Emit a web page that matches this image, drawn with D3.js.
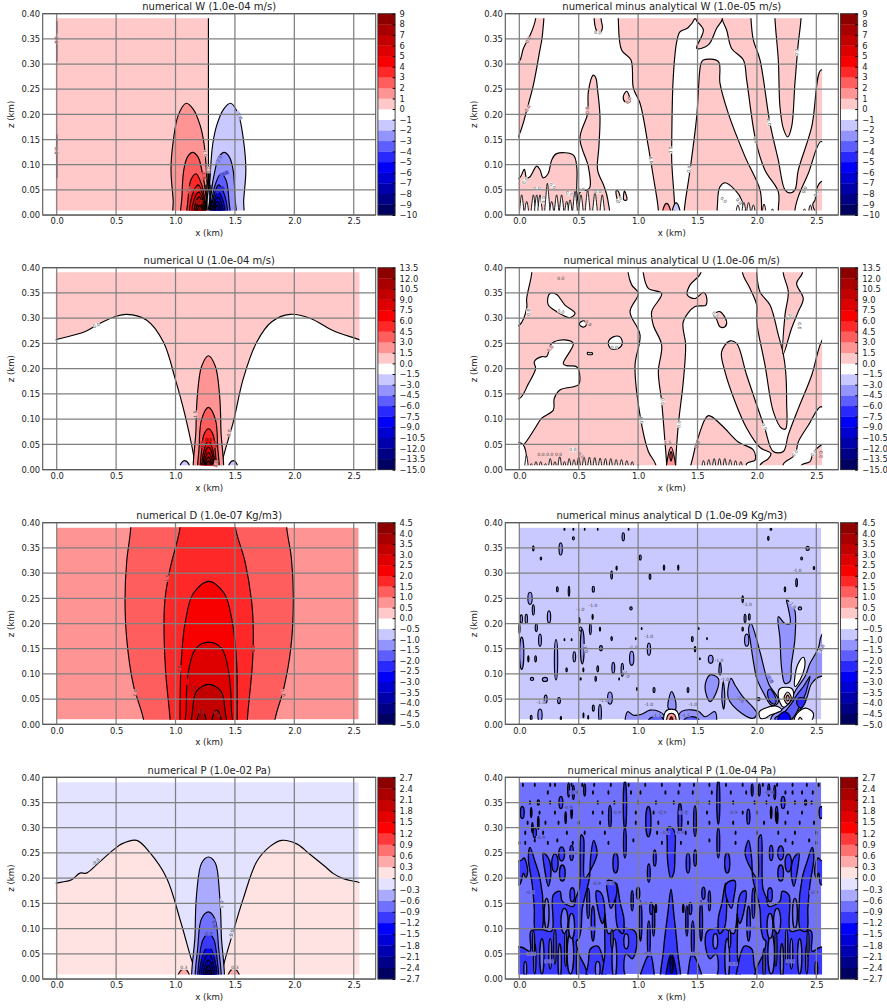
<!DOCTYPE html>
<html>
<head>
<meta charset="utf-8">
<script src="https://cdnjs.cloudflare.com/ajax/libs/d3/7.8.5/d3.min.js"></script>
<style>
  body { margin: 0; background: #fff; }
  text { font-family: "DejaVu Sans", sans-serif; fill: #222; }
</style>
</head>
<body>
<div id="chart"></div>
<script>
// contour levels of each colour bar
var levelsW = [-10,-9,-8,-7,-6,-5,-4,-3,-2,-1,0,1,2,3,4,5,6,7,8,9];
var levelsU = [-15,-13.5,-12,-10.5,-9,-7.5,-6,-4.5,-3,-1.5,0,1.5,3,4.5,6,7.5,9,10.5,12,13.5];
var levelsD = [-5,-4.5,-4,-3.5,-3,-2.5,-2,-1.5,-1,-0.5,0,0.5,1,1.5,2,2.5,3,3.5,4,4.5];
var levelsP = [-2.7,-2.4,-2.1,-1.8,-1.5,-1.2,-0.9,-0.6,-0.3,0,0.3,0.6,0.9,1.2,1.5,1.8,2.1,2.4,2.7];

var xTicks = [0, 0.5, 1, 1.5, 2, 2.5];
var zTicks = [0, 0.05, 0.1, 0.15, 0.2, 0.25, 0.3, 0.35, 0.4];

// x extent and z extent of the model output (km)
var domainX = [0, 2.54];
var domainZ = [0.01, 0.39];

// Contour shapes: [value inside, [[x km, z km], ...], straight edges?]
// value null = line only
var shapesW1 = [
  [0.5, [[-0.1,-0.1],[1.277,-0.1],[1.277,0.5],[-0.1,0.5]], true],
  [null, [[0,0.385],[0,0.36]], true],
  [null, [[0,0.34],[0,0.305]], true],
  [null, [[0,0.16],[0,0.136]], true],
  [null, [[0,0.12],[0,0.073]], true],
  [1.5, [[0.995,-0.03],[0.98,0.03],[0.962,0.09],[0.982,0.149],[1.024,0.199],[1.09,0.222],[1.15,0.21],[1.206,0.179],[1.24,0.142],[1.262,0.08],[1.275,-0.03]]],
  [2.5, [[1.06,-0.03],[1.055,0.04],[1.07,0.09],[1.1,0.115],[1.144,0.1245],[1.19,0.115],[1.225,0.085],[1.25,0.05],[1.27,-0.03]]],
  [3.5, [[1.105,-0.03],[1.105,0.03],[1.13,0.07],[1.173,0.082],[1.22,0.06],[1.255,0.02],[1.275,-0.03]]],
  [4.5, [[1.135,-0.03],[1.13,0.03],[1.19,0.06],[1.24,0.03],[1.265,-0.03]]],
  [5.5, [[1.15,-0.03],[1.15,0.025],[1.195,0.046],[1.24,0.02],[1.265,-0.03]]],
  [6.5, [[1.165,-0.03],[1.165,0.02],[1.2,0.036],[1.235,0.015],[1.26,-0.03]]],
  [7.5, [[1.175,-0.03],[1.176,0.015],[1.202,0.027],[1.23,0.012],[1.25,-0.03]]],
  [8.5, [[1.185,-0.03],[1.186,0.012],[1.204,0.019],[1.224,0.01],[1.235,-0.03]]],
  [-1.5, [[1.559,-0.03],[1.574,0.03],[1.592,0.09],[1.572,0.149],[1.53,0.199],[1.464,0.222],[1.404,0.21],[1.348,0.179],[1.314,0.142],[1.292,0.08],[1.279,-0.03]]],
  [-2.5, [[1.494,-0.03],[1.499,0.04],[1.484,0.09],[1.454,0.115],[1.41,0.1245],[1.364,0.115],[1.329,0.085],[1.304,0.05],[1.284,-0.03]]],
  [-3.5, [[1.449,-0.03],[1.449,0.03],[1.424,0.07],[1.381,0.082],[1.334,0.06],[1.299,0.02],[1.279,-0.03]]],
  [-4.5, [[1.419,-0.03],[1.424,0.03],[1.364,0.06],[1.314,0.03],[1.289,-0.03]]],
  [-5.5, [[1.404,-0.03],[1.404,0.025],[1.359,0.046],[1.314,0.02],[1.289,-0.03]]],
  [-6.5, [[1.39,-0.03],[1.39,0.02],[1.355,0.036],[1.32,0.015],[1.295,-0.03]]],
  [-7.5, [[1.38,-0.03],[1.378,0.015],[1.352,0.027],[1.325,0.012],[1.305,-0.03]]],
  [-8.5, [[1.37,-0.03],[1.368,0.012],[1.35,0.019],[1.33,0.01],[1.32,-0.03]]],
  [null, [[1.265,0.095],[1.265,0.01]], true],
  [null, [[1.288,0.09],[1.288,0.01]], true],
  [null, [[1.255,0.06],[1.262,0.01]], true],
  [null, [[1.298,0.06],[1.292,0.01]], true]
];
var labelsW1 = [
  [0,0.348,-90,"0.0",0.5],[0,0.128,-90,"0.0",0.5],[1.25,0.122,80,"1.0",0.5],[1.277,0.09,90,"0.0",0.5],
  [1.24,0.078,80,"1.0",2.5],[1.115,0.05,-70,"2.0",2.5],[1.365,0.11,-65,"-2.0",-2.5],[1.41,0.082,-25,"-3.0",-3.5],
  [1.535,0.198,65,"-1.0",-1.5],[1.18,0.05,-30,"3.0",3.5],[1.375,0.05,-30,"-4.0",-4.5],[1.2,0.026,0,"6.0",6.5]
];

var shapesW2 = [
  [0.5, [[-0.1,0.29],[0,0.305],[0.034,0.331],[0.098,0.361],[0.137,0.39],[0.14,0.43],[0.196,0.43],[0.196,0.361],[0.168,0.321],[0.118,0.258],[0.07,0.215],[0,0.16],[-0.1,0.12]]],
  [0.5, [[0.625,0.43],[0.63,0.39],[0.642,0.371],[0.67,0.359],[0.699,0.371],[0.688,0.39],[0.69,0.43]]],
  [0.5, [[0.903,0.246],[0.875,0.235],[0.889,0.225],[0.93,0.225],[0.923,0.238]]],
  [0.5, [[0.623,0.278],[0.643,0.273],[0.659,0.248],[0.679,0.195],[0.67,0.136],[0.659,0.089],[0.715,0.056],[0.745,0.03],[0.75,-0.03],[0.5,-0.03],[0.5,0.04],[0.52,0.047],[0.575,0.05],[0.595,0.056],[0.581,0.096],[0.51,0.152],[0.575,0.202],[0.581,0.245]]],
  [0.5, [[-0.1,0.0735],[0,0.0735],[0.042,0.0908],[0.062,0.073],[0.09,0.076],[0.146,0.097],[0.174,0.09],[0.2,0.074],[0.244,0.083],[0.272,0.109],[0.314,0.122],[0.455,0.119],[0.483,0.096],[0.483,0.05],[0.483,-0.03],[-0.1,-0.03]]],
  [0.5, [[0.833,0.43],[0.833,0.39],[0.861,0.328],[0.94,0.308],[0.96,0.252],[1.016,0.222],[1.086,0.136],[1.128,0.076],[1.17,0.01],[1.17,-0.03],[1.282,-0.03],[1.282,0.12],[1.295,0.27],[1.324,0.343],[1.352,0.364],[1.42,0.372],[1.484,0.395],[1.49,0.43]]],
  [0.5, [[1.484,0.43],[1.484,0.39],[1.549,0.3675],[1.493,0.331],[1.591,0.338],[1.661,0.371],[1.709,0.389],[1.71,0.43]]],
  [0.5, [[1.385,-0.03],[1.389,0.01],[1.437,0.089],[1.493,0.195],[1.529,0.301],[1.549,0.308],[1.675,0.305],[1.689,0.262],[1.759,0.202],[1.9,0.116],[2.026,0.05],[2.04,0.01],[2.04,-0.03]]],
  [-0.5, [[1.669,0.026],[1.689,0.056],[1.731,0.064],[1.815,0.05],[1.871,0.03],[1.9,-0.03],[1.69,-0.03]]],
  [0.5, [[1.71,0.43],[1.709,0.389],[1.745,0.3675],[1.787,0.331],[1.886,0.308],[1.914,0.268],[1.989,0.149],[2.068,0.089],[2.18,0.046],[2.18,0.01],[2.18,-0.03],[2.32,-0.03],[2.32,0.01],[2.348,0.036],[2.433,0.083],[2.54,0.146],[2.62,0.12],[2.62,0.27],[2.54,0.288],[2.461,0.175],[2.348,0.089],[2.32,0.05],[2.278,0.044],[2.236,0.05],[2.18,0.109],[2.11,0.182],[2.026,0.308],[1.97,0.348],[1.95,0.39],[1.95,0.43]]],
  [0.5, [[2.152,0.43],[2.152,0.39],[2.18,0.308],[2.194,0.215],[2.222,0.172],[2.259,0.155],[2.292,0.175],[2.32,0.262],[2.348,0.341],[2.371,0.39],[2.371,0.43]]],
  [0.5, [[2.62,0.07],[2.54,0.066],[2.5,0.05],[2.49,0.03],[2.47,0.02],[2.62,-0.03]]],
  [1.5, [[1.205,-0.03],[1.215,0.015],[1.24,0.023],[1.265,0.015],[1.275,-0.03]]],
  [-1.5, [[1.285,-0.03],[1.295,0.015],[1.32,0.024],[1.345,0.015],[1.355,-0.03]]],
  [0.5, [[0.815,0.048],[0.835,0.025],[0.85,0.03],[0.83,0.048]]],
  [0.5, [[0.885,0.048],[0.905,0.03],[0.88,0.03]]]
];
var teethW2 = [
  [-0.5, 0.016, [0.02,0.062,0.118,0.146,0.174,0.236,0.272,0.314,0.356,0.399,0.427,0.469,0.519,0.575,0.637,0.698], [0.04,0.027,0.04,0.04,0.04,0.063,0.027,0.04,0.04,0.027,0.03,0.047,0.04,0.05,0.045,0.04]],
  [-0.5, 0.016, [1.84,1.89,1.93,1.97], [0.02,0.025,0.025,0.02]],
  [0.5, 0.016, [2.06,2.13,2.4,2.45], [0.022,0.012,0.012,0.02]]
];
var labelsW2 = [
  [0.076,0.348,-60,"0.0",0.5],[0.07,0.212,-60,"0.0",0.5],[0.575,0.208,-90,"0.0",0.5],[0.918,0.228,-60,"0.0",0.5],
  [0.66,0.362,0,"0.0",-0.5],[1.277,0.129,90,"0.0",-0.5],[1.108,0.109,80,"0.0",-0.5],[1.428,0.091,-80,"0.0",-0.5],
  [2.334,0.323,90,"0.0",-0.5],[2.1,0.184,75,"0.0",-0.5],[1.989,0.149,75,"0.0",-0.5],[2.4,0.05,-70,"0.0",-0.5],
  [2.5,0.043,-70,"0.0",-0.5],[0.05,0.068,-50,"0.0",-0.5],[0.15,0.052,0,"0.0",-0.5],[0.28,0.058,45,"0.0",-0.5],
  [0.42,0.042,30,"0.0",-0.5],[0.52,0.05,0,"0.0",-0.5],[0.66,0.047,0,"0.0",-0.5],[0.84,0.03,-45,"0.0",-0.5],
  [1.72,0.03,45,"0.0",-0.5],[1.85,0.027,50,"0.0",-0.5],[0.2,0.03,90,"0.0",-0.5]
];

var shapesU1 = [
  [0.75, [[-0.1,0.25],[0,0.258],[0.224,0.272],[0.365,0.29],[0.49,0.303],[0.589,0.3076],[0.758,0.296],[0.898,0.253],[0.996,0.181],[1.08,0.108],[1.164,0.01],[1.17,-0.03],[1.385,-0.03],[1.389,0.01],[1.487,0.095],[1.571,0.181],[1.684,0.253],[1.81,0.293],[1.964,0.3076],[2.132,0.3],[2.329,0.275],[2.54,0.258],[2.62,0.25],[2.62,0.45],[-0.1,0.45]]],
  [2.25, [[1.178,-0.03],[1.172,0.08],[1.185,0.15],[1.22,0.205],[1.277,0.2257],[1.335,0.205],[1.37,0.15],[1.382,0.08],[1.376,-0.03]]],
  [3.75, [[1.206,-0.03],[1.2,0.05],[1.22,0.1],[1.277,0.1234],[1.335,0.1],[1.354,0.05],[1.348,-0.03]]],
  [5.25, [[1.222,-0.03],[1.22,0.04],[1.24,0.07],[1.277,0.081],[1.315,0.07],[1.333,0.04],[1.332,-0.03]]],
  [6.75, [[1.235,-0.03],[1.232,0.03],[1.277,0.058],[1.322,0.03],[1.32,-0.03]]],
  [8.25, [[1.243,-0.03],[1.24,0.025],[1.277,0.045],[1.314,0.025],[1.311,-0.03]]],
  [9.75, [[1.25,-0.03],[1.248,0.02],[1.277,0.034],[1.306,0.02],[1.304,-0.03]]],
  [11.25, [[1.257,-0.03],[1.255,0.015],[1.277,0.025],[1.299,0.015],[1.297,-0.03]]],
  [12.75, [[1.263,-0.03],[1.262,0.012],[1.277,0.017],[1.292,0.012],[1.291,-0.03]]],
  [-2.25, [[1.03,-0.03],[1.045,0.012],[1.075,0.018],[1.11,0.012],[1.128,-0.03]]],
  [-2.25, [[1.437,-0.03],[1.455,0.012],[1.487,0.018],[1.515,0.012],[1.532,-0.03]]]
];
var labelsU1 = [
  [0.335,0.286,-25,"0.0",-0.75],[1.45,0.073,-80,"0.0",0.75],[1.17,0.11,-90,"1.5",0.75],[1.277,0.059,0,"6.0",6.75],
  [1.225,0.05,-85,"4.5",5.25],[1.33,0.05,85,"4.5",5.25],[1.34,0.012,-80,"3.0",2.25]
];

var shapesU2 = [
  [0.75, [[0.104,0.43],[0.104,0.389],[0.062,0.339],[0.062,0.32],[0,0.286],[-0.1,0.28],[-0.1,-0.03],[1.148,-0.03],[1.148,0.01],[1.086,0.036],[1.016,0.108],[0.974,0.207],[1.016,0.267],[0.932,0.313],[1.002,0.349],[0.946,0.366],[0.917,0.389],[0.917,0.43]]],
  [-0.75, [[-0.1,0.15],[0,0.141],[0.076,0.17],[0.137,0.2],[0.126,0.214],[0.19,0.224],[0.23,0.224],[0.272,0.25],[0.384,0.257],[0.454,0.25],[0.37,0.21],[0.398,0.206],[0.482,0.204],[0.51,0.184],[0.496,0.168],[0.342,0.158],[0.294,0.141],[0.286,0.118],[0.188,0.102],[0.132,0.082],[0.034,0.049],[0,0.045],[-0.1,0.045]]],
  [-0.75, [[-0.1,0.05],[0.03,0.05],[0.03,-0.03],[-0.1,-0.03]]],
  [-0.75, [[0.258,0.349],[0.314,0.347],[0.384,0.326],[0.469,0.31],[0.426,0.301],[0.314,0.313],[0.244,0.326],[0.239,0.339]]],
  [-0.75, [[0.505,0.289],[0.54,0.295],[0.567,0.29],[0.55,0.283],[0.52,0.284]]],
  [-0.75, [[0.749,0.252],[0.791,0.263],[0.847,0.263],[0.867,0.25],[0.833,0.24],[0.769,0.24]]],
  [0.75, [[1.044,0.43],[1.044,0.389],[1.086,0.359],[1.198,0.349],[1.114,0.313],[1.128,0.286],[1.198,0.247],[1.17,0.194],[1.198,0.135],[1.226,0.055],[1.24,0.01],[1.24,-0.03],[1.316,-0.03],[1.316,0.01],[1.338,0.088],[1.38,0.174],[1.4,0.247],[1.38,0.293],[1.479,0.323],[1.571,0.326],[1.571,0.346],[1.549,0.351],[1.479,0.339],[1.414,0.346],[1.437,0.366],[1.526,0.389],[1.526,0.43]]],
  [2.25, [[1.24,-0.03],[1.25,0.025],[1.277,0.045],[1.304,0.025],[1.316,-0.03]]],
  [3.75, [[1.277,0.036],[1.287,0.027],[1.277,0.017],[1.267,0.027]]],
  [0.75, [[1.636,0.307],[1.689,0.313],[1.745,0.293],[1.731,0.283],[1.689,0.283],[1.66,0.298]]],
  [0.75, [[1.703,0.234],[1.773,0.255],[1.829,0.25],[1.914,0.187],[2.062,0.085],[2.138,0.036],[2.222,0.036],[2.264,0.069],[2.348,0.121],[2.461,0.187],[2.54,0.252],[2.62,0.28],[2.62,0.1],[2.54,0.125],[2.433,0.088],[2.348,0.055],[2.32,0.029],[2.222,0.011],[2.222,-0.03],[2.026,-0.03],[2.026,0.009],[2.096,0.022],[2.118,0.032],[2.026,0.044],[1.914,0.082],[1.815,0.135],[1.731,0.194]]],
  [0.75, [[1.44,-0.03],[1.465,0.029],[1.507,0.065],[1.591,0.107],[1.703,0.088],[1.843,0.055],[1.97,0.039],[1.984,0.019],[1.914,0.012],[1.914,-0.03]]],
  [0.75, [[2.376,-0.03],[2.376,0.009],[2.447,0.016],[2.475,0.034],[2.54,0.049],[2.62,0.06],[2.62,-0.03]]],
  [0.75, [[1.88,0.43],[1.88,0.389],[1.942,0.359],[1.998,0.326],[1.998,0.293],[2.068,0.207],[2.138,0.115],[2.208,0.082],[2.242,0.081],[2.25,0.135],[2.242,0.194],[2.222,0.229],[2.18,0.267],[2.11,0.326],[2.026,0.352],[1.998,0.389],[1.998,0.43]]],
  [0.75, [[2.222,0.43],[2.222,0.389],[2.264,0.352],[2.236,0.306],[2.222,0.229],[2.292,0.28],[2.348,0.313],[2.39,0.339],[2.334,0.369],[2.382,0.389],[2.382,0.43]]],
  [-0.75, [[0.595,0.2315],[0.575,0.2325],[0.575,0.2285],[0.615,0.2285],[0.615,0.2315]]]
];
var teethU2 = [
  [-0.75, 0.014, [0.06,0.1,0.14,0.18,0.22,0.26,0.3,0.34,0.38,0.42,0.46,0.5,0.545,0.59,0.635,0.68,0.725,0.77,0.815,0.86,0.905,0.95,1.0],
                  [0.028,0.012,0.016,0.016,0.012,0.022,0.016,0.026,0.016,0.022,0.02,0.025,0.025,0.025,0.024,0.023,0.022,0.022,0.02,0.02,0.018,0.016,0.01]],
  [-0.75, 0.014, [1.55,1.595,1.64,1.685,1.73,1.775,1.82,1.865], [0.018,0.02,0.022,0.022,0.022,0.02,0.018,0.016]]
];
var labelsU2 = [
  [0.075,0.312,-90,"0.0",-0.75],[0.35,0.379,0,"0.0",0.75],[0.35,0.313,20,"0.0",-0.75],[0.58,0.29,40,"0.0",0.75],
  [0.8,0.243,0,"0.0",-0.75],[0.26,0.24,-50,"0.0",0.75],[1.205,0.135,90,"0.0",-0.75],[1.025,0.098,80,"0.0",-0.75],
  [1.343,0.09,-85,"0.0",-0.75],[1.25,0.055,0,"1.5",0.75],[1.65,0.307,45,"0.0",-0.75],[2.27,0.302,-60,"0.0",-0.75],
  [2.36,0.285,90,"0.0",-0.75],[2.06,0.085,60,"0.0",-0.75],[1.5,0.05,-75,"0.0",0.75],[2.32,0.033,-50,"0.0",-0.75],
  [2.48,0.033,-50,"0.0",-0.75],[2.54,0.03,90,"0.0",0.75],[0.22,0.03,0,"0.0.0.0",0.75],[0.33,0.03,0,"0.0",0.75],
  [0.45,0.04,0,"0.0",-0.75],[0.52,0.028,45,"0.0",0.75]
];

var shapesD1 = [
  [1.25, [[0.62,0.43],[0.623,0.39],[0.589,0.323],[0.575,0.25],[0.589,0.17],[0.645,0.078],[0.73,0.01],[0.74,-0.03],[1.83,-0.03],[1.838,0.01],[1.91,0.07],[1.97,0.15],[1.992,0.25],[1.975,0.33],[1.936,0.39],[1.93,0.43]]],
  [1.75, [[1.04,0.43],[1.038,0.39],[0.954,0.309],[0.912,0.25],[0.903,0.204],[0.917,0.104],[0.954,0.01],[0.96,-0.03],[1.6,-0.03],[1.605,0.01],[1.647,0.118],[1.655,0.184],[1.641,0.243],[1.585,0.323],[1.504,0.39],[1.5,0.43]]],
  [2.25, [[1.04,-0.03],[1.038,0.01],[1.047,0.12],[1.08,0.2],[1.15,0.26],[1.28,0.2835],[1.41,0.26],[1.48,0.2],[1.515,0.12],[1.52,0.01],[1.52,-0.03]]],
  [2.75, [[1.094,-0.03],[1.09,0.03],[1.105,0.1],[1.17,0.15],[1.28,0.163],[1.39,0.15],[1.45,0.1],[1.47,0.03],[1.465,-0.03]]],
  [3.25, [[1.145,-0.03],[1.145,0.03],[1.175,0.065],[1.28,0.0793],[1.385,0.065],[1.415,0.03],[1.42,-0.03]]],
  [3.75, [[1.17,-0.03],[1.195,0.02],[1.22,0.028],[1.245,0.02],[1.26,-0.03]]],
  [3.75, [[1.3,-0.03],[1.32,0.02],[1.347,0.028],[1.372,0.02],[1.39,-0.03]]]
];
var labelsD1 = [
  [0.66,0.062,-75,"1.0",0.75],[1.905,0.062,75,"1.0",0.75],[0.93,0.29,-80,"1.5",1.25],[1.65,0.15,90,"1.5",1.75],
  [1.035,0.11,-90,"2.0",1.75],[1.1,0.085,-90,"2.5",2.25],[1.15,0.07,-60,"3.0",2.75],[1.22,0.025,0,"4.0",3.25],[1.35,0.02,45,"4.0",3.25]
];

var shapesD2 = [
  [-1.25, [[1.95,0.2],[1.99,0.175],[2.03,0.14],[2.1,0.08],[2.18,0.05],[2.17,0.04],[2.12,0.038],[2.06,0.06],[2.0,0.09],[1.97,0.125],[1.945,0.165],[1.93,0.19]]],
  [-1.75, [[2.09,0.065],[2.11,0.07],[2.16,0.05],[2.15,0.04],[2.11,0.045]]],
  [-1.25, [[2.25,0.2465],[2.3,0.235],[2.32,0.225],[2.32,0.17],[2.29,0.118],[2.278,0.085],[2.236,0.081],[2.208,0.111],[2.194,0.17],[2.18,0.2135],[2.236,0.2],[2.278,0.2],[2.264,0.23]]],
  [-1.25, [[2.62,0.2],[2.54,0.174],[2.517,0.151],[2.447,0.121],[2.405,0.095],[2.335,0.071],[2.279,0.048],[2.223,0.032],[2.124,0.015],[2.124,-0.03],[2.307,-0.03],[2.307,0.019],[2.377,0.032],[2.419,0.052],[2.461,0.081],[2.54,0.095],[2.62,0.09]]],
  [-1.75, [[2.447,0.095],[2.391,0.075],[2.335,0.058],[2.293,0.042],[2.223,0.022],[2.152,0.012],[2.18,0.0],[2.3,0.012],[2.363,0.038],[2.405,0.058],[2.433,0.081]]],
  [-2.25, [[2.35,0.052],[2.412,0.05],[2.37,0.032],[2.335,0.042]]],
  [-2.75, [[2.18,0.015],[2.237,0.025],[2.28,0.015],[2.25,-0.01],[2.2,-0.01]]],
  [-0.25, [[2.39,0.133],[2.405,0.121],[2.363,0.088],[2.32,0.075],[2.32,0.095],[2.349,0.121]]],
  [-0.25, [[2.194,0.071],[2.293,0.071],[2.307,0.055],[2.223,0.034],[2.18,0.055]]],
  [0.25, [[2.228,0.052],[2.259,0.064],[2.29,0.052],[2.259,0.04]]],
  [0.75, [[2.245,0.052],[2.259,0.058],[2.273,0.052],[2.259,0.046]]],
  [-0.25, [[2.068,0.032],[2.166,0.036],[2.209,0.028],[2.11,0.018],[2.068,0.012],[2.03,0.012],[2.02,0.025]]],
  [-0.25, [[2.32,0.015],[2.405,0.032],[2.475,0.022],[2.447,0.003],[2.33,0.0]]],
  [0.25, [[2.345,0.004],[2.363,0.014],[2.385,0.004],[2.363,-0.005]]],
  [-1.25, [[1.782,0.091],[1.815,0.078],[1.871,0.058],[1.998,0.022],[1.97,0.012],[1.871,0.022],[1.759,0.052]]],
  [-1.25, [[1.605,0.098],[1.675,0.091],[1.661,0.065],[1.605,0.045],[1.563,0.075]]],
  [-1.25, [[1.717,0.085],[1.73,0.05],[1.72,0.03],[1.705,0.05]]],
  [-1.25, [[1.69,0.124],[1.7,0.105],[1.69,0.098],[1.68,0.105]]],
  [-1.25, [[1.254,0.032],[1.282,0.065],[1.316,0.045],[1.31,0.028]]],
  [-1.25, [[0.912,-0.03],[0.912,0.025],[0.96,0.018],[1.03,0.02],[1.1,0.028],[1.17,0.026],[1.226,0.015],[1.226,-0.03]]],
  [-1.25, [[1.33,-0.03],[1.35,0.022],[1.392,0.028],[1.507,0.026],[1.563,0.015],[1.647,0.025],[1.62,-0.03]]],
  [-1.75, [[1.06,-0.03],[1.1,0.012],[1.2,0.014],[1.22,-0.03]]],
  [-1.75, [[1.34,-0.03],[1.4,0.012],[1.5,0.012],[1.53,-0.03]]],
  [-0.25, [[1.23,0.025],[1.28,0.03],[1.33,0.025],[1.33,-0.03],[1.23,-0.03]]],
  [0.75, [[1.25,0.018],[1.28,0.022],[1.31,0.018],[1.31,-0.03],[1.25,-0.03]]],
  [4.25, [[1.265,0.008],[1.28,0.015],[1.295,0.008],[1.295,-0.03],[1.265,-0.03]]]
];
// ellipses: [value, x, z, half width, half height]
var spotsD2 = [
  [-1.25,0.875,0.372,0.01,0.008],[-1.25,0.455,0.369,0.008,0.003],[-1.25,0.118,0.349,0.006,0.005],[-1.25,0.348,0.348,0.014,0.012],
  [-1.25,0.182,0.329,0.006,0.003],[-1.25,1.018,0.331,0.008,0.005],[-1.25,0.819,0.31,0.005,0.004],[-1.25,0.777,0.296,0.007,0.008],
  [-1.25,1.1,0.293,0.007,0.005],[-1.25,1.218,0.311,0.006,0.005],[-1.25,1.338,0.311,0.005,0.005],[-1.25,0.32,0.268,0.007,0.005],
  [-1.25,0.418,0.264,0.006,0.01],[-1.25,0.623,0.268,0.009,0.006],[-1.25,0.09,0.25,0.018,0.012],[-1.25,0.118,0.227,0.009,0.01],
  [-1.25,0.25,0.213,0.014,0.012],[-1.25,0.017,0.209,0.01,0.008],[-1.25,0.059,0.209,0.01,0.009],[-1.25,0,0.19,0.006,0.01],
  [-1.25,0.143,0.192,0.009,0.008],[-1.25,0.174,0.167,0.012,0.012],[-1.25,0.505,0.206,0.005,0.006],[-1.25,0.617,0.213,0.005,0.005],
  [-1.25,0.94,0.23,0.01,0.003],[-1.25,0.516,0.189,0.012,0.004],[-1.25,0.598,0.189,0.008,0.011],[-1.25,0.679,0.189,0.005,0.004],
  [-1.25,0.777,0.17,0.006,0.004],[-1.25,0.53,0.154,0.016,0.034],[-1.25,0.687,0.151,0.012,0.005],[-1.25,0.463,0.134,0.011,0.01],
  [-1.25,0.137,0.13,0.007,0.006],[-1.25,0.076,0.13,0.005,0.006],[-1.25,0.309,0.128,0.014,0.04],[-1.25,0.02,0.141,0.018,0.032],
  [-1.25,0.66,0.11,0.007,0.006],[-1.25,0.539,0.108,0.004,0.004],[-1.25,0.398,0.108,0.006,0.004],[-1.25,0.791,0.112,0.012,0.011],
  [-1.25,0.867,0.108,0.01,0.013],[-1.25,0.946,0.131,0.018,0.014],[-1.25,1.091,0.149,0.014,0.012],[-1.25,1.456,0.169,0.007,0.005],
  [-1.25,1.479,0.149,0.006,0.005],[-1.25,1.611,0.129,0.02,0.008],[-1.25,0.107,0.09,0.014,0.003],[-1.25,0.216,0.089,0.022,0.004],
  [-1.25,0.516,0.09,0.005,0.002],[-1.25,0.643,0.09,0.006,0.005],[-1.25,0.222,0.05,0.012,0.008],[-1.25,0.334,0.047,0.012,0.006],
  [-1.25,0.763,0.052,0.02,0.012],[-1.25,0.174,0.018,0.018,0.012],[-1.25,0.623,0.032,0.008,0.006],[-1.25,0.679,0.022,0.012,0.017],
  [-1.25,1.134,0.068,0.008,0.005],[-1.25,1.42,0.068,0.007,0.005],[-1.25,1.88,0.248,0.006,0.007],[-1.25,1.9,0.21,0.008,0.008],
  [-1.25,1.936,0.213,0.007,0.006],[-1.25,1.88,0.189,0.006,0.004],[-1.25,1.914,0.167,0.018,0.012],[-1.25,2.096,0.369,0.006,0.004],
  [-1.25,2.118,0.387,0.007,0.002],[-1.25,2.427,0.349,0.014,0.004],[-1.25,2.376,0.329,0.007,0.003],[-1.25,2.48,0.31,0.006,0.003],
  [-1.25,2.334,0.281,0.007,0.008],[-1.25,2.236,0.268,0.006,0.005],[-1.25,2.362,0.23,0.014,0.003],[-1.25,2.012,0.05,0.014,0.003],
  [-1.25,0.38,0.387,0.004,0.002],[-1.25,0.55,0.387,0.003,0.002],[-1.25,0.66,0.387,0.003,0.002],[-1.25,0.455,0.387,0.004,0.002],
  [-1.25,0.92,0.387,0.003,0.002],[-1.25,0.38,0.168,0.003,0.002],[-1.25,0.44,0.168,0.003,0.002],[-1.25,1.03,0.19,0.003,0.002],
  [-1.25,1.51,0.19,0.003,0.002],[-1.25,1.58,0.17,0.003,0.002],[-1.25,1.52,0.13,0.003,0.002],[-1.25,0.98,0.17,0.003,0.002],
  [-1.25,0.84,0.09,0.003,0.002],[-1.25,0.99,0.07,0.003,0.003],[-1.25,0.35,0.012,0.005,0.004],[-1.25,0.54,0.018,0.004,0.005],
  [-1.25,0.58,0.014,0.004,0.004],[-1.25,0.1,0.013,0.007,0.005]
];
var labelsD2 = [
  [0.51,0.228,0,"-1.0",-0.75],[0.62,0.236,0,"-1.0",-0.75],[1.09,0.175,0,"-1.0",-0.75],[0.96,0.152,0,"-1.0",-0.75],
  [1.92,0.237,0,"-1.0",-0.75],[1.68,0.127,0,"-1.0",-0.75],[1.73,0.09,0,"-1.0",-0.75],[1.09,0.04,0,"-1.0",-0.75],
  [1.46,0.04,0,"-1.0",-0.75],[0.18,0.043,0,"-1.0",-0.75],[0.71,0.048,0,"-1.0",-0.75],[2.34,0.305,0,"-1.0",-0.75],
  [2.54,0.15,-60,"-1.0",-0.75],[1.86,0.05,45,"-1.0",-1.25],[2.11,0.09,60,"-1.0",-1.25],[2.3,0.237,50,"-1.0",-0.75],
  [1.16,0.018,0,"-1.5",-1.25],[1.4,0.018,0,"-1.5",-1.25],[0.9,0.1,60,"-1.0",-0.75],[0.56,0.15,80,"-1.0",-0.75]
];

var shapesP1 = [
  [0.15, [[-0.1,0.185],[0,0.1903],[0.042,0.192],[0.126,0.197],[0.196,0.21],[0.25,0.21],[0.337,0.227],[0.477,0.256],[0.547,0.268],[0.673,0.275],[0.786,0.25],[0.926,0.2],[1.038,0.118],[1.122,0.048],[1.17,0.009],[1.17,-0.03],[1.39,-0.03],[1.389,0.009],[1.487,0.095],[1.571,0.16],[1.684,0.233],[1.796,0.263],[1.894,0.275],[2.02,0.268],[2.118,0.25],[2.259,0.223],[2.329,0.209],[2.413,0.199],[2.497,0.194],[2.539,0.192],[2.62,0.18],[2.62,-0.1],[-0.1,-0.1]]],
  [-0.45, [[1.165,-0.03],[1.165,0.09],[1.178,0.17],[1.22,0.23],[1.277,0.242],[1.335,0.23],[1.37,0.17],[1.385,0.09],[1.38,-0.03]]],
  [-0.75, [[1.19,-0.03],[1.19,0.07],[1.22,0.12],[1.277,0.133],[1.33,0.12],[1.36,0.07],[1.36,-0.03]]],
  [-1.05, [[1.205,-0.03],[1.205,0.05],[1.235,0.08],[1.277,0.09],[1.32,0.08],[1.345,0.05],[1.345,-0.03]]],
  [-1.35, [[1.22,-0.03],[1.22,0.04],[1.277,0.066],[1.33,0.04],[1.33,-0.03]]],
  [-1.65, [[1.232,-0.03],[1.232,0.03],[1.277,0.05],[1.32,0.03],[1.32,-0.03]]],
  [-1.95, [[1.24,-0.03],[1.242,0.022],[1.277,0.038],[1.31,0.022],[1.312,-0.03]]],
  [-2.25, [[1.25,-0.03],[1.252,0.016],[1.277,0.027],[1.3,0.016],[1.302,-0.03]]],
  [-2.55, [[1.26,-0.03],[1.262,0.012],[1.277,0.018],[1.292,0.012],[1.294,-0.03]]],
  [0.45, [[1.01,-0.03],[1.03,0.012],[1.075,0.02],[1.11,0.012],[1.13,-0.03]]],
  [0.45, [[1.43,-0.03],[1.45,0.012],[1.49,0.02],[1.53,0.012],[1.55,-0.03]]]
];
var labelsP1 = [
  [0.33,0.232,-40,"-0.0",-0.15],[1.39,0.15,90,"-0.3",-0.15],[1.325,0.11,80,"-0.6",-0.75],[1.277,0.09,0,"-0.9",-0.75],
  [1.47,0.09,-70,"-0.0",-0.15],[1.07,0.022,0,"0.3",0.15],[1.5,0.022,0,"0.3",0.15],[1.277,0.064,0,"-1.2",-1.05]
];

var shapesP2 = [
  [-1.05, [[-0.1,0.2],[0,0.187],[0.035,0.21],[0.055,0.2],[0.07,0.215],[0.04,0.24],[0.015,0.235],[-0.1,0.23]]],
  [-1.05, [[0.09,0.261],[0.132,0.233],[0.174,0.2],[0.202,0.134],[0.188,0.098],[0.137,0.095],[0.126,0.141],[0.109,0.187],[0.076,0.24]]],
  [-1.05, [[0.202,0.25],[0.244,0.24],[0.267,0.213],[0.244,0.184],[0.216,0.213]]],
  [-1.05, [[-0.1,-0.03],[-0.1,0.06],[0.02,0.063],[0.09,0.055],[0.098,0.095],[0.188,0.098],[0.272,0.095],[0.286,0.167],[0.342,0.174],[0.362,0.154],[0.455,0.144],[0.474,0.16],[0.505,0.18],[0.52,0.286],[0.54,0.28],[0.55,0.2],[0.62,0.225],[0.655,0.25],[0.625,0.275],[0.6,0.24],[0.59,0.2],[0.56,0.17],[0.53,0.14],[0.52,0.1],[0.5,0.08],[0.48,0.075],[0.5,0.05],[0.56,0.02],[0.58,-0.03]]],
  [-1.05, [[0.55,-0.03],[0.58,0.03],[0.6,0.06],[0.66,0.065],[0.72,0.02],[0.73,-0.03]]],
  [-1.05, [[0.7,-0.03],[0.72,0.05],[0.72,0.13],[0.75,0.09],[0.83,0.1],[0.97,0.095],[0.99,0.07],[0.95,0.04],[0.9,0.05],[0.88,0.02],[0.92,-0.03]]],
  [-1.05, [[0.82,0.19],[0.85,0.15],[0.88,0.12],[0.87,0.09],[0.83,0.1],[0.81,0.14]]],
  [-1.05, [[0.65,0.175],[0.69,0.17],[0.72,0.13],[0.7,0.11],[0.66,0.14]]],
  [-1.05, [[0.74,0.195],[0.81,0.19],[0.82,0.17],[0.77,0.14],[0.75,0.16]]],
  [-1.05, [[1.0,-0.03],[1.06,0.035],[1.1,0.05],[1.13,0.02],[1.13,-0.03]]],
  [-1.05, [[1.277,0.178],[1.3,0.13],[1.33,0.06],[1.345,-0.03],[1.2,-0.03],[1.215,0.06],[1.25,0.13]]],
  [-1.35, [[1.235,-0.03],[1.25,0.03],[1.28,0.05],[1.31,0.03],[1.325,-0.03]]],
  [-1.05, [[1.25,0.3],[1.285,0.3],[1.31,0.29],[1.31,0.25],[1.3,0.21],[1.275,0.2],[1.25,0.23],[1.245,0.27]]],
  [-1.05, [[1.855,-0.03],[1.835,0.05],[1.835,0.13],[1.805,0.09],[1.725,0.1],[1.585,0.095],[1.565,0.07],[1.605,0.04],[1.655,0.05],[1.675,0.02],[1.635,-0.03]]],
  [-1.05, [[1.555,-0.03],[1.495,0.035],[1.455,0.05],[1.425,0.02],[1.425,-0.03]]],
  [-1.05, [[2.005,-0.03],[1.975,0.03],[1.955,0.06],[1.895,0.065],[1.835,0.02],[1.825,-0.03]]],
  [-1.05, [[2.65,-0.03],[2.65,0.06],[2.535,0.063],[2.465,0.055],[2.457,0.095],[2.367,0.098],[2.283,0.095],[2.269,0.167],[2.213,0.174],[2.193,0.154],[2.1,0.144],[2.081,0.16],[2.05,0.18],[2.035,0.286],[2.015,0.28],[2.005,0.2],[1.935,0.225],[1.9,0.25],[1.93,0.275],[1.955,0.24],[1.965,0.2],[1.995,0.17],[2.025,0.14],[2.035,0.1],[2.055,0.08],[2.075,0.075],[2.055,0.05],[1.995,0.02],[1.975,-0.03]]],
  [-1.05, [[2.465,0.261],[2.423,0.233],[2.381,0.2],[2.353,0.134],[2.367,0.098],[2.418,0.095],[2.429,0.141],[2.446,0.187],[2.479,0.24]]],
  [-1.05, [[2.353,0.25],[2.311,0.24],[2.288,0.213],[2.311,0.184],[2.339,0.213]]],
  [-1.05, [[2.65,0.2],[2.54,0.187],[2.52,0.21],[2.5,0.2],[2.485,0.215],[2.515,0.24],[2.54,0.235],[2.65,0.23]]],
  [-1.05, [[1.735,0.19],[1.705,0.15],[1.675,0.12],[1.685,0.09],[1.725,0.1],[1.745,0.14]]],
  [-1.05, [[1.905,0.175],[1.865,0.17],[1.835,0.13],[1.855,0.11],[1.895,0.14]]],
  [-1.05, [[1.815,0.195],[1.745,0.19],[1.735,0.17],[1.785,0.14],[1.805,0.16]]]
];
// light gaps and blobs inside the lower part of the P error field
var spotsP2 = [
  [-0.75,0.19,0.045,0.018,0.035],[-0.75,0.34,0.035,0.014,0.035],[-0.75,0.43,0.05,0.028,0.04],[-0.75,0.26,0.05,0.012,0.03],[-0.75,0.05,0.02,0.012,0.015],
  [-0.75,0.38,0.115,0.03,0.025],[-0.75,0.23,0.13,0.02,0.03],[-0.75,0.44,0.105,0.025,0.025],[-0.75,0.66,0.02,0.02,0.015],[-0.75,0.8,0.04,0.02,0.04],
  [-0.75,1.75,0.04,0.02,0.04],[-0.75,2.36,0.045,0.018,0.035],[-0.75,2.21,0.035,0.014,0.035],[-0.75,2.12,0.05,0.028,0.04],[-0.75,2.29,0.05,0.012,0.03],
  [-0.75,2.17,0.115,0.03,0.025],[-0.75,2.32,0.13,0.02,0.03],[-0.75,2.11,0.105,0.025,0.025],[-0.75,2.5,0.02,0.012,0.015],
  [-0.75,0.13,0.04,0.01,0.03],[-0.75,0.3,0.065,0.01,0.035],[-0.75,0.39,0.06,0.009,0.035],[-0.75,0.49,0.03,0.01,0.03],[-0.75,0.12,0.07,0.009,0.025],
  [-0.75,2.42,0.04,0.01,0.03],[-0.75,2.25,0.065,0.01,0.035],[-0.75,2.16,0.06,0.009,0.035],[-0.75,2.06,0.03,0.01,0.03],[-0.75,2.43,0.07,0.009,0.025],
  [-0.75,0.9,0.075,0.02,0.015],[-0.75,1.65,0.075,0.02,0.015],[-0.75,0.78,0.08,0.01,0.018],[-0.75,1.77,0.08,0.01,0.018],
  [-1.05,0.3,0.23,0.027,0.018],[-1.05,0.362,0.21,0.024,0.016],[-1.05,0.356,0.248,0.025,0.014],[-1.05,0.446,0.167,0.02,0.014],
  [-1.05,0.44,0.25,0.015,0.015],[-1.05,0.763,0.322,0.012,0.022],[-1.05,0.889,0.345,0.014,0.05],[-1.05,1.086,0.312,0.022,0.03],
  [-1.05,1.352,0.319,0.016,0.03],[-1.05,1.479,0.313,0.012,0.03],[-1.05,1.675,0.352,0.013,0.045],[-1.05,1.928,0.322,0.013,0.015],
  [-1.05,2.166,0.326,0.01,0.016],[-1.05,0.889,0.27,0.012,0.03],[-1.05,1.675,0.27,0.012,0.03],[-1.05,0.81,0.23,0.022,0.02],
  [-1.05,1.75,0.23,0.022,0.02],[-1.05,1.09,0.21,0.012,0.018],[-1.05,1.14,0.24,0.012,0.016],[-1.05,1.42,0.23,0.016,0.02],
  [-1.05,1.48,0.24,0.012,0.016],[-1.05,2.264,0.23,0.027,0.018],[-1.05,2.2,0.21,0.024,0.016],[-1.05,2.2,0.25,0.025,0.014],
  [-1.05,2.11,0.167,0.02,0.014],[-1.05,2.12,0.25,0.015,0.015],[-1.05,1.0,0.17,0.014,0.012],[-1.05,1.11,0.14,0.012,0.012],
  [-1.05,1.44,0.14,0.012,0.012],[-1.05,1.55,0.17,0.014,0.012],[-1.05,0.62,0.11,0.015,0.035],[-1.05,1.93,0.11,0.015,0.035],
  [-1.05,1.09,0.08,0.012,0.035],[-1.05,1.46,0.08,0.012,0.035],[-1.05,1.15,0.14,0.006,0.008],[-1.05,1.38,0.14,0.006,0.008],
  [-1.05,0.58,0.15,0.012,0.03],[-1.05,0.95,0.155,0.01,0.02],[-1.05,1.02,0.115,0.012,0.04],[-1.05,1.13,0.115,0.01,0.03],
  [-1.05,1.41,0.115,0.01,0.03],[-1.05,1.53,0.115,0.012,0.04],[-1.05,1.6,0.155,0.01,0.02],[-1.05,1.97,0.15,0.012,0.03],
  [-1.05,0.1,0.33,0.006,0.01],[-1.05,0.025,0.33,0.016,0.012],[-1.05,2.54,0.33,0.016,0.012],[-1.05,0.11,0.3,0.006,0.01],
  [-1.05,0.16,0.31,0.006,0.013],[-1.05,0.13,0.29,0.014,0.01],[-1.05,0.35,0.35,0.016,0.012],[-1.05,2.22,0.35,0.016,0.012],
  [-1.05,0.16,0.35,0.008,0.005],[-1.05,2.41,0.35,0.008,0.005],[-1.05,0.415,0.375,0.008,0.014],[-1.05,0.455,0.37,0.008,0.014],
  [-1.05,0.55,0.375,0.008,0.012],[-1.05,1.96,0.375,0.008,0.012],[-1.05,2.02,0.375,0.008,0.012],[-1.05,2.1,0.375,0.008,0.012],
  [-1.05,2.15,0.37,0.008,0.014],[-2.25,1.282,0.028,0.014,0.017],
  [-1.05,0.44,0.33,0.006,0.012],[-1.05,0.39,0.32,0.006,0.012],[-1.05,2.17,0.32,0.006,0.012],[-1.05,2.12,0.33,0.006,0.012]
];
var dotRowsP2 = [
  [0.385, [0.03,0.13,0.26,0.3,0.44,0.53,0.63,0.77,0.92,1.06,1.2,1.35,1.47,1.6,1.74,1.88,2.05,2.17,2.3,2.42,2.52]],
  [0.37, [0.24,0.62,0.75,0.94,1.02,1.23,1.34,1.46,1.62,1.78,1.91,2.24,2.3,2.38,2.47]],
  [0.35, [0.09,0.26,0.5,0.66,0.8,1.0,1.15,1.3,1.5,1.6,1.8,1.98,2.08,2.32,2.46]],
  [0.33, [0.17,0.3,0.62,0.7,0.98,1.13,1.2,1.41,1.58,1.88,2.0,2.26,2.38]],
  [0.31, [0.07,0.22,0.33,0.5,0.68,0.98,1.17,1.42,1.6,1.8,2.06,2.24,2.36,2.48]],
  [0.29, [0.05,0.2,0.4,0.55,0.72,1.16,1.4,1.82,2.0,2.18,2.32,2.5]],
  [0.27, [0,0.05,0.24,0.45,0.75,1.2,1.36,1.82,2.3,2.5]],
  [0.275, [0.13,0.32,0.96,1.6,2.24,2.44]]
];
var labelsP2 = [
  [0.09,0.172,0,"-0.9",-0.75],[2.48,0.172,0,"-0.9",-0.75],[1.277,0.053,0,"-1.2",-1.05],[1.08,0.05,0,"-0.9",-0.75],
  [1.48,0.05,0,"-0.9",-0.75],[0.18,0.28,0,"-0.9",-0.75],[0.45,0.25,0,"-0.9",-0.75],[0.41,0.34,0,"-0.9",-0.75],
  [0.46,0.37,0,"-0.9",-0.75],[2.1,0.37,0,"-0.9",-0.75],[0.82,0.33,0,"-0.9",-0.75],[1.23,0.29,0,"-0.9",-0.75],
  [1.35,0.29,0,"-0.9",-0.75],[1.2,0.33,0,"-0.9",-0.75],[1.38,0.33,0,"-0.9",-0.75],[1.8,0.33,0,"-0.9",-0.75],
  [0.65,0.19,0,"-0.9",-0.75],[0.76,0.19,0,"-0.9",-0.75],[1.04,0.15,0,"-0.9",-0.75],[1.55,0.15,0,"-0.9",-0.75],
  [0.6,0.1,0,"-0.9",-0.75],[1.95,0.1,0,"-0.9",-0.75],[0.1,0.05,0,"-0.9",-0.75],[0.25,0.035,0,"-0.9",-0.75],
  [1.8,0.03,0,"-0.9",-0.75],[2.28,0.035,0,"-0.9",-0.75]
];

var colLeft = [42.7, 505.3];
var rowTop = [13.7, 267.7, 522.7, 777.3];
var rowBottom = [215, 469.7, 724.3, 979];
var axW = 333;
var barGap = 2.2;
var barW = 17.2;

var panels = [
  { title: "numerical W (1.0e-04 m/s)", col: 0, row: 0, levels: levelsW, fmt: "d", base: -0.5, shapes: shapesW1, labels: labelsW1 },
  { title: "numerical minus analytical W (1.0e-05 m/s)", col: 1, row: 0, levels: levelsW, fmt: "d", base: -0.5, shapes: shapesW2, teeth: teethW2, labels: labelsW2 },
  { title: "numerical U (1.0e-04 m/s)", col: 0, row: 1, levels: levelsU, fmt: ".1f", base: -0.75, shapes: shapesU1, labels: labelsU1 },
  { title: "numerical minus analytical U (1.0e-06 m/s)", col: 1, row: 1, levels: levelsU, fmt: ".1f", base: -0.75, shapes: shapesU2, teeth: teethU2, labels: labelsU2 },
  { title: "numerical D (1.0e-07 Kg/m3)", col: 0, row: 2, levels: levelsD, fmt: ".1f", base: 0.75, shapes: shapesD1, labels: labelsD1 },
  { title: "numerical minus analytical D (1.0e-09 Kg/m3)", col: 1, row: 2, levels: levelsD, fmt: ".1f", base: -0.75, shapes: shapesD2, spots: spotsD2, labels: labelsD2 },
  { title: "numerical P (1.0e-02 Pa)", col: 0, row: 3, levels: levelsP, fmt: ".1f", base: -0.15, shapes: shapesP1, labels: labelsP1 },
  { title: "numerical minus analytical P (1.0e-04 Pa)", col: 1, row: 3, levels: levelsP, fmt: ".1f", base: -0.75, shapes: shapesP2, spots: spotsP2, dotRows: dotRowsP2, labels: labelsP2, heavy: true }
];

var seismic = d3.scaleLinear()
  .domain([0, 0.25, 0.5, 0.75, 1])
  .range(["#00004d", "#0000ff", "#ffffff", "#ff0000", "#800000"]);

var svg = d3.select("#chart").append("svg")
  .attr("width", 887)
  .attr("height", 1008);

panels.forEach(function(p, idx) {
  var left = colLeft[p.col];
  var top = rowTop[p.row];
  var bottom = rowBottom[p.row];
  var nBands = p.levels.length - 1;
  var colours = d3.range(nBands).map(function(i) { return seismic((i + 0.5) / nBands); });
  var colour = d3.scaleQuantize()
    .domain([p.levels[0], p.levels[nBands]])
    .range(colours);

  var x = d3.scaleLinear().domain([-0.118, 2.685]).range([left, left + axW]);
  var z = d3.scaleLinear().domain([0, 0.4]).range([bottom, top]);

  var smooth = d3.line().x(function(d) { return x(d[0]); }).y(function(d) { return z(d[1]); })
    .curve(d3.curveCatmullRomClosed.alpha(0.5));
  var straight = d3.line().x(function(d) { return x(d[0]); }).y(function(d) { return z(d[1]); });

  var g = svg.append("g");
  var lineW = p.heavy ? 1.35 : 1.15;

  // clip everything to the model domain, a hair wider so the lines on its edge stay
  var clipId = "clip" + idx;
  svg.append("clipPath").attr("id", clipId).append("rect")
    .attr("x", x(domainX[0]) - 1)
    .attr("y", z(domainZ[1]) - 0.5)
    .attr("width", x(domainX[1]) - x(domainX[0]) + 2)
    .attr("height", z(domainZ[0]) - z(domainZ[1]) + 1);
  var field = g.append("g").attr("clip-path", "url(#" + clipId + ")");

  field.append("rect")
    .attr("x", x(domainX[0]))
    .attr("y", z(domainZ[1]))
    .attr("width", x(domainX[1]) - x(domainX[0]))
    .attr("height", z(domainZ[0]) - z(domainZ[1]))
    .attr("fill", colour(p.base));

  p.shapes.forEach(function(s) {
    if (s[0] === null) {
      field.append("path").attr("d", straight(s[1]))
        .attr("fill", "none").attr("stroke", "#000").attr("stroke-width", lineW);
      return;
    }
    var path = s[2] ? straight(s[1]) + "Z" : smooth(s[1]);
    field.append("path").attr("d", path)
      .attr("fill", colour(s[0]))
      .attr("stroke", "#000").attr("stroke-width", lineW)
      .attr("stroke-linejoin", "round");
  });

  // thin tooth-like contours along the bottom boundary
  (p.teeth || []).forEach(function(t) {
    t[2].forEach(function(cx, i) {
      var w = t[1];
      var pts = [[cx - w, -0.03], [cx - w * 0.6, t[3][i] * 0.7], [cx, t[3][i]], [cx + w * 0.6, t[3][i] * 0.7], [cx + w, -0.03]];
      field.append("path").attr("d", smooth(pts))
        .attr("fill", colour(t[0]))
        .attr("stroke", "#000").attr("stroke-width", 0.9);
    });
  });

  (p.spots || []).forEach(function(s) {
    field.append("ellipse")
      .attr("cx", x(s[1])).attr("cy", z(s[2]))
      .attr("rx", x(s[3]) - x(0)).attr("ry", z(0) - z(s[4]))
      .attr("fill", colour(s[0]))
      .attr("stroke", "#000").attr("stroke-width", lineW);
  });

  (p.dotRows || []).forEach(function(r) {
    r[1].forEach(function(cx) {
      field.append("ellipse")
        .attr("cx", x(cx)).attr("cy", z(r[0]))
        .attr("rx", 1).attr("ry", 2.2)
        .attr("fill", "#000");
    });
  });

  // inline contour labels sit in a small gap of the line
  (p.labels || []).forEach(function(l) {
    var lab = g.append("g")
      .attr("transform", "translate(" + x(l[0]) + "," + z(l[1]) + ") rotate(" + l[2] + ")");
    lab.append("rect")
      .attr("x", -l[3].length * 1.2).attr("y", -2)
      .attr("width", l[3].length * 2.4).attr("height", 4)
      .attr("fill", colour(l[4]));
    lab.append("text")
      .attr("text-anchor", "middle")
      .attr("dy", "0.35em")
      .attr("font-size", 4.5)
      .style("fill", "#444")
      .text(l[3]);
  });

  // grid over the field
  g.selectAll(".gridx").data(xTicks).enter().append("line")
    .attr("x1", function(d) { return x(d); }).attr("x2", function(d) { return x(d); })
    .attr("y1", top).attr("y2", bottom)
    .attr("stroke", "#808080").attr("stroke-width", 1.25);
  g.selectAll(".gridz").data(zTicks).enter().append("line")
    .attr("x1", left).attr("x2", left + axW)
    .attr("y1", function(d) { return z(d); }).attr("y2", function(d) { return z(d); })
    .attr("stroke", "#808080").attr("stroke-width", 1.25);

  g.append("rect")
    .attr("x", left).attr("y", top)
    .attr("width", axW).attr("height", bottom - top)
    .attr("fill", "none").attr("stroke", "#555").attr("stroke-width", 1.1);

  // axes
  var xAxis = g.append("g")
    .attr("transform", "translate(0," + bottom + ")")
    .call(d3.axisBottom(x).tickValues(xTicks).tickSize(0).tickPadding(3.5).tickFormat(d3.format(".1f")));
  var zAxis = g.append("g")
    .attr("transform", "translate(" + left + ",0)")
    .call(d3.axisLeft(z).tickValues(zTicks).tickSize(0).tickPadding(2.5).tickFormat(d3.format(".2f")));
  xAxis.select(".domain").remove();
  zAxis.select(".domain").remove();
  xAxis.selectAll("text").attr("font-size", 8.4).attr("font-family", null);
  zAxis.selectAll("text").attr("font-size", 8.4).attr("font-family", null);

  g.append("text")
    .attr("x", left + axW / 2).attr("y", bottom + 21)
    .attr("text-anchor", "middle").attr("font-size", 8.6)
    .text("x (km)");
  g.append("text")
    .attr("transform", "translate(" + (left - 28.5) + "," + ((top + bottom) / 2) + ") rotate(-90)")
    .attr("text-anchor", "middle").attr("font-size", 8.6)
    .text("z (km)");
  g.append("text")
    .attr("x", left + axW / 2).attr("y", top - 3.3)
    .attr("text-anchor", "middle").attr("font-size", 10)
    .text(p.title);

  // colour bar
  var barX = left + axW + barGap;
  var barScale = d3.scaleLinear().domain([p.levels[0], p.levels[nBands]]).range([bottom, top]);
  g.selectAll(".band").data(colours).enter().append("rect")
    .attr("x", barX)
    .attr("y", function(d, i) { return barScale(p.levels[i + 1]); })
    .attr("width", barW)
    .attr("height", function(d, i) { return barScale(p.levels[i]) - barScale(p.levels[i + 1]) + 0.3; })
    .attr("fill", function(d) { return d; });
  g.append("rect")
    .attr("x", barX).attr("y", top)
    .attr("width", barW).attr("height", bottom - top)
    .attr("fill", "none").attr("stroke", "#333").attr("stroke-width", 0.9);
  var barAxis = g.append("g")
    .attr("transform", "translate(" + (barX + barW) + ",0)")
    .call(d3.axisRight(barScale).tickValues(p.levels).tickSizeInner(-2.5).tickSizeOuter(0).tickPadding(4.5).tickFormat(d3.format(p.fmt)));
  barAxis.select(".domain").remove();
  barAxis.selectAll("text").attr("font-size", 8.4).attr("font-family", null);
});
</script>
</body>
</html>
